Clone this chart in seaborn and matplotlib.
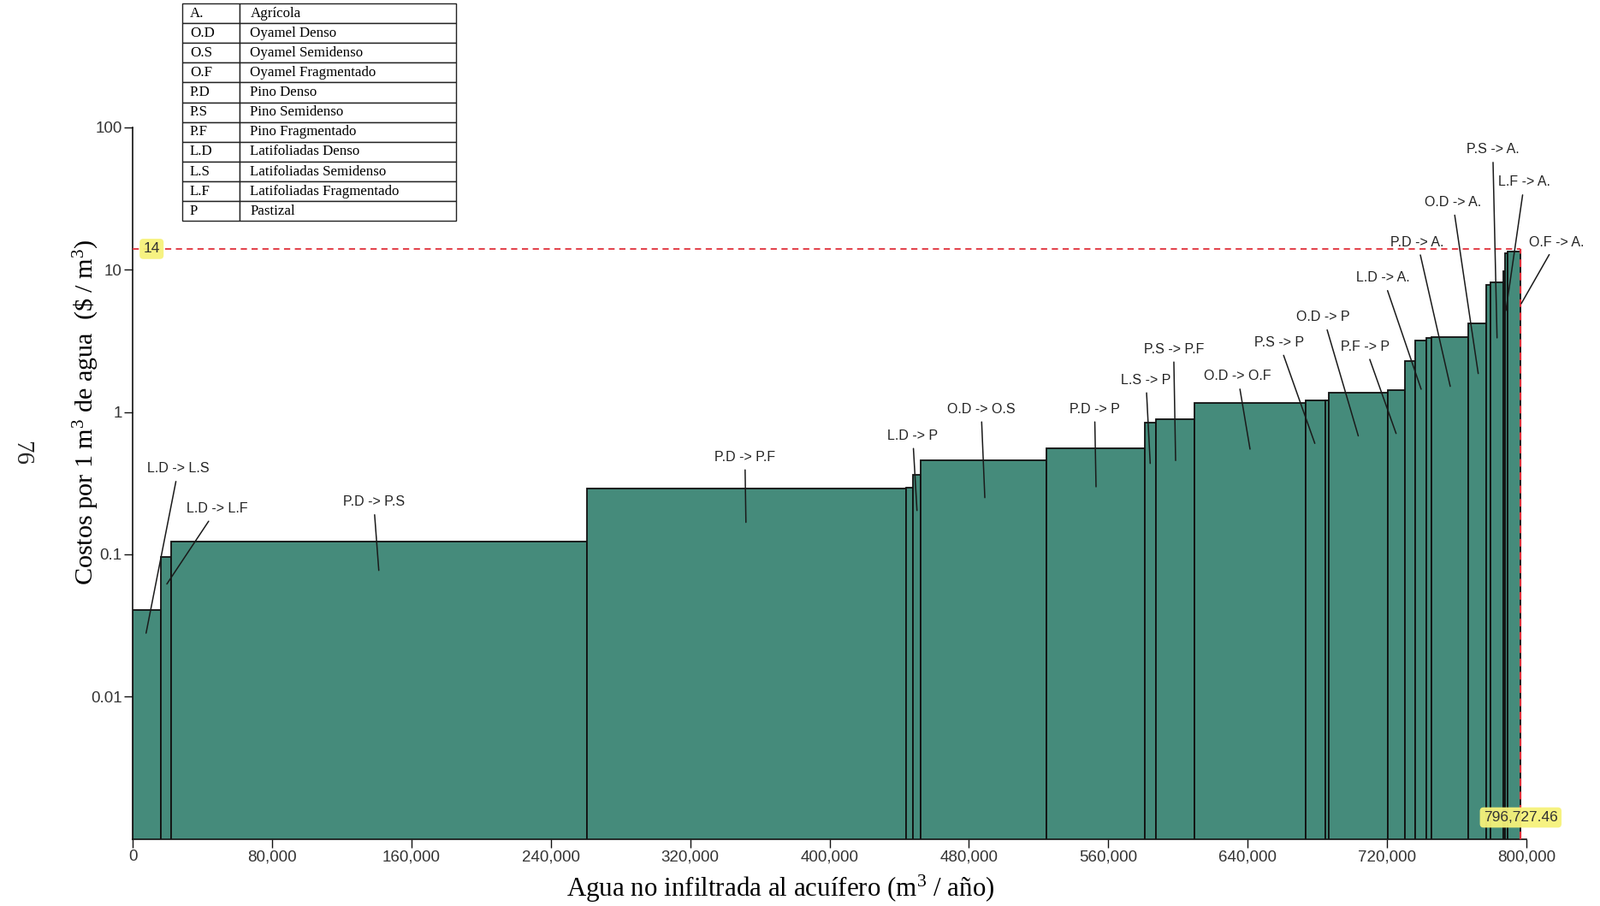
import numpy as np
import pandas as pd
import matplotlib
matplotlib.use("Agg")
import matplotlib.pyplot as plt
import seaborn as sns
from matplotlib.ticker import FuncFormatter, FixedLocator, NullLocator

# land-use change steps, ordered by cost (marginal abatement style curve)
changes = ["L.D -> L.S", "L.D -> L.F", "P.D -> P.S", "P.D -> P.F", "", "L.D -> P",
           "O.D -> O.S", "P.D -> P", "L.S -> P", "P.S -> P.F", "O.D -> O.F", "P.S -> P",
           "", "O.D -> P", "P.F -> P", "", "L.D -> A.", "", "P.D -> A.", "O.D -> A.",
           "", "P.S -> A.", "", "L.F -> A.", "O.F -> A."]
# water not infiltrated (m3/yr) per step = bar width
water = [16350, 5750, 238530, 183330, 3930, 4420, 72190, 56480, 6380, 22100, 63700,
         11440, 2110, 33590, 10120, 5750, 6240, 3240, 20970, 10170, 2460, 7370,
         1130, 1330, 7647]
# cost per m3 ($/m3) = bar height
cost = [0.0404, 0.0958, 0.1234, 0.291, 0.295, 0.362, 0.460, 0.556, 0.839, 0.890,
        1.157, 1.207, 1.21, 1.367, 1.425, 2.29, 3.17, 3.32, 3.36, 4.18, 7.86, 8.16,
        9.8, 13.1, 13.4]
cost_limit = 14
total_label = "796,727.46"

codes = ["A.", "O.D", "O.S", "O.F", "P.D", "P.S", "P.F", "L.D", "L.S", "L.F", "P"]
names = ["Agrícola", "Oyamel Denso", "Oyamel Semidenso", "Oyamel Fragmentado",
         "Pino Denso", "Pino Semidenso", "Pino Fragmentado", "Latifoliadas Denso",
         "Latifoliadas Semidenso", "Latifoliadas Fragmentado", "Pastizal"]

# label placement: (text x, text y, tip x, tip y) in data units
label_pos = {
    "L.D -> L.S": (26270, 0.399, 7710, 0.0279),
    "L.D -> L.F": (48280, 0.208, 19640, 0.0618),
    "P.D -> P.S": (138340, 0.233, 141290, 0.077),
    "P.D -> P.F": (351430, 0.482, 352020, 0.1676),
    "L.D -> P": (447740, 0.681, 450200, 0.203),
    "O.D -> O.S": (487020, 1.047, 489140, 0.250),
    "P.D -> P": (552140, 1.047, 552980, 0.298),
    "L.S -> P": (581610, 1.676, 584070, 0.435),
    "P.S -> P.F": (597520, 2.76, 598650, 0.456),
    "O.D -> O.F": (634350, 1.779, 641370, 0.548),
    "P.S -> P": (658070, 3.066, 678550, 0.6015),
    "O.D -> P": (683510, 4.63, 703500, 0.679),
    "P.F -> P": (707530, 2.87, 725210, 0.706),
    "L.D -> A.": (717840, 8.74, 739590, 1.445),
    "P.D -> A.": (737480, 15.58, 756290, 1.513),
    "O.D -> A.": (757770, 29.7, 772350, 1.862),
    "P.S -> A.": (780690, 69.8, 783150, 3.317),
    "L.F -> A.": (798880, 41.2, 788250, 5.17),
    "O.F -> A.": (817150, 15.58, 797030, 5.77),
}

sns.set_theme(style="ticks")
plt.rcParams["font.family"] = ["Liberation Sans", "DejaVu Sans"]
plt.rcParams["mathtext.fontset"] = "custom"
plt.rcParams["mathtext.rm"] = "Liberation Serif"
plt.rcParams["mathtext.it"] = "Liberation Serif:italic"

edges = np.concatenate([[0], np.cumsum(water)])
df = pd.DataFrame({"mid": (edges[:-1] + edges[1:]) / 2, "cost": cost})
total = edges[-1]

fig = plt.figure(figsize=(18.7, 10.59), dpi=100)
ax = fig.add_axes([0.0829, 0.0741, 0.8711, 0.7853])

sns.histplot(data=df, x="mid", weights="cost", bins=[float(e) for e in edges], ax=ax,
             stat="count", color="#458B7B", alpha=1, edgecolor="#111111", linewidth=1.3)
ax.set_yscale("log")
ax.set_ylim(0.001, 100)
ax.set_xlim(0, 800000)

# threshold lines
ax.plot([0, total], [cost_limit, cost_limit], color="#e0303a", ls=(0, (4, 3)), lw=1.3, zorder=5)
ax.plot([total, total], [0.001, cost_limit], color="#e0303a", ls=(0, (4, 3)), lw=1.6, zorder=5)

hl = dict(boxstyle="round,pad=0.25", fc="#f6f27a", ec="none", alpha=0.95)
ax.annotate(str(cost_limit), xy=(0, cost_limit), xytext=(9, 0), textcoords="offset points",
            ha="left", va="center", fontsize=12.5, color="#333333", bbox=hl, zorder=6)
ax.annotate(total_label, xy=(total, 0.001), xytext=(0, 18), textcoords="offset points",
            ha="center", va="center", fontsize=12.5, color="#333333", bbox=hl, zorder=6)

for name in changes:
    if not name:
        continue
    tx, ty, px, py = label_pos[name]
    ax.annotate(name, xy=(px, py), xytext=(tx, ty), textcoords="data",
                ha="center", va="center", fontsize=11.5, color="#222222",
                annotation_clip=False, zorder=7,
                arrowprops=dict(arrowstyle="-", color="#1a1a1a", lw=1.1,
                                shrinkA=3, shrinkB=0))

ax.xaxis.set_major_locator(FixedLocator(np.arange(0, 800001, 80000)))
ax.xaxis.set_major_formatter(FuncFormatter(lambda v, p: f"{int(v):,}"))
ax.yaxis.set_major_locator(FixedLocator([0.01, 0.1, 1, 10, 100]))
ax.yaxis.set_major_formatter(FuncFormatter(lambda v, p: f"{v:g}"))
ax.yaxis.set_minor_locator(NullLocator())
ax.tick_params(axis="both", labelsize=13.5, labelcolor="#333333", length=7, width=1,
               color="#111111", pad=2)
sns.despine(ax=ax)
for s in ["left", "bottom"]:
    ax.spines[s].set_color("#111111")
    ax.spines[s].set_linewidth(1.2)

ax.set_xlabel("Agua no infiltrada al acuífero (m$^{3}$ / año)", fontsize=22.3,
              family="Liberation Serif", color="black")
ax.xaxis.set_label_coords(0.4647, -0.049)
ax.set_ylabel(r"Costos por 1 m$^{3}$ de agua  (\$ / m$^{3}$)", fontsize=21.7,
              family="Liberation Serif", color="black")
ax.yaxis.set_label_coords(-0.0225, 0.60)

fig.text(0.0134, 0.5, "76", rotation=270, fontsize=21, family="Liberation Serif",
         ha="center", va="center")

# legend table of abbreviations
tax = fig.add_axes([0.1137, 0.7561, 0.1711, 0.2401])
tax.axis("off")
tbl = tax.table(cellText=[[c, n] for c, n in zip(codes, names)], cellLoc="left",
                colWidths=[0.21, 0.79], bbox=[0, 0, 1, 1])
tbl.auto_set_font_size(False)
tbl.set_fontsize(12.2)
for (r, c), cell in tbl.get_celld().items():
    cell.set_linewidth(1)
    cell.set_edgecolor("#222222")
    cell.set_text_props(family="Liberation Serif", color="black")
    cell.PAD = 0.14 if c == 0 else 0.05

fig.savefig("out.png", dpi=100)
